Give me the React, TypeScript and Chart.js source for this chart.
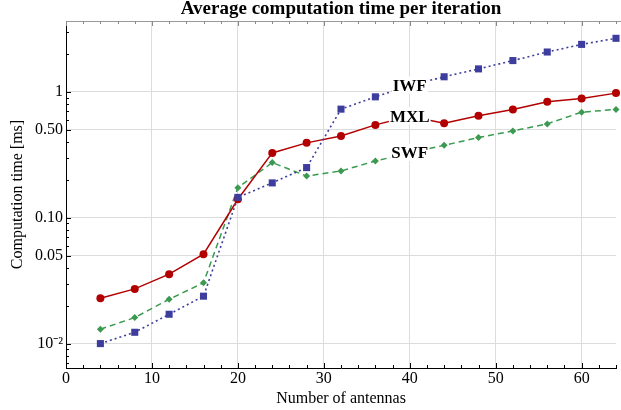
import React, { useEffect, useRef } from 'react';
import { Chart, registerables } from 'chart.js';

Chart.register(...registerables);

// ---- data ----
const antennas = [4, 8, 12, 16, 20, 24, 28, 32, 36, 40, 44, 48, 52, 56, 60, 64];
const iwf = [0.0100, 0.0123, 0.0171, 0.0238, 0.145, 0.189, 0.250, 0.728, 0.912, 1.12, 1.316, 1.52, 1.77, 2.07, 2.38, 2.66];
const mxl = [0.0229, 0.0272, 0.0356, 0.0513, 0.140, 0.327, 0.393, 0.446, 0.546, 0.64, 0.563, 0.644, 0.724, 0.832, 0.885, 0.976];
const swf = [0.0130, 0.0161, 0.0225, 0.0304, 0.173, 0.274, 0.214, 0.235, 0.282, 0.327, 0.376, 0.433, 0.489, 0.556, 0.689, 0.724];
const seriesNames = ['IWF', 'MXL', 'SWF'];
const labelAtAntennas = 40;

const xTickValues = [0, 10, 20, 30, 40, 50, 60];
const yTickValues = [0.01, 0.05, 0.1, 0.5, 1];
const yTickLabels = ['10\u207B\u00B2', '0.05', '0.10', '0.50', '1'];

const title = 'Average computation time per iteration';
const xTitle = 'Number of antennas';
const yTitle = 'Computation time [ms]';

const SERIF = "'Liberation Serif', 'Times New Roman', serif";

const decorPlugin = {
  id: 'decor',
  afterDatasetsDraw(chart: any) {
    const { ctx, chartArea: a, scales } = chart;
    const x = scales.x;
    const y = scales.y;
    ctx.save();

    // series labels with white boxes, centred on the point at labelAtAntennas
    const idx = antennas.indexOf(labelAtAntennas);
    ctx.font = `bold 17px ${SERIF}`;
    ctx.textAlign = 'center';
    ctx.textBaseline = 'middle';
    chart.data.datasets.forEach((ds: any, i: number) => {
      const v = ds.data[idx].y;
      const px = x.getPixelForValue(labelAtAntennas);
      const py = y.getPixelForValue(v);
      const w = ctx.measureText(seriesNames[i]).width + 2;
      ctx.fillStyle = '#fff';
      ctx.fillRect(px - w / 2, py - 9, w, 17);
      ctx.fillStyle = '#000';
      ctx.fillText(seriesNames[i], px, py + 1);
    });

    // top frame line
    ctx.strokeStyle = '#999';
    ctx.lineWidth = 1;
    ctx.beginPath();
    ctx.moveTo(a.left, Math.round(a.top) + 0.5);
    ctx.lineTo(chart.width, Math.round(a.top) + 0.5);
    ctx.stroke();

    // x ticks (bottom inside, top inside)
    for (let v = 0; v <= 64; v += 2) {
      const px = Math.round(x.getPixelForValue(v)) + 0.5;
      const len = v % 10 === 0 ? 5 : 3;
      ctx.strokeStyle = '#000';
      ctx.beginPath();
      ctx.moveTo(px, a.bottom);
      ctx.lineTo(px, a.bottom - len);
      ctx.stroke();
      ctx.strokeStyle = '#888';
      ctx.beginPath();
      ctx.moveTo(px, a.top);
      ctx.lineTo(px, a.top + len);
      ctx.stroke();
    }

    // y ticks (left, inside)
    ctx.strokeStyle = '#000';
    for (let e = -3; e <= 0; e++) {
      for (let m = 1; m <= 9; m++) {
        const v = m * Math.pow(10, e);
        if (v < y.min || v > y.max) continue;
        const py = Math.round(y.getPixelForValue(v)) + 0.5;
        const major = m === 1 || m === 5;
        ctx.beginPath();
        ctx.moveTo(a.left, py);
        ctx.lineTo(a.left + (major ? 5 : 3), py);
        ctx.stroke();
      }
    }
    ctx.restore();
  },
};

export default function App() {
  const ref = useRef<HTMLCanvasElement>(null);

  useEffect(() => {
    const canvas = ref.current;
    if (!canvas) return;
    const mk = (vals: number[]) => antennas.map((a, i) => ({ x: a, y: vals[i] }));
    const chart = new Chart(canvas, {
      type: 'line',
      data: {
        datasets: [
          {
            label: seriesNames[0],
            data: mk(iwf),
            borderColor: '#3d3d9e',
            backgroundColor: '#3d3d9e',
            borderWidth: 1.6,
            borderDash: [2, 3],
            pointStyle: 'rect',
            pointRadius: 5,
            pointBorderWidth: 0,
            clip: false,
          },
          {
            label: seriesNames[1],
            data: mk(mxl),
            borderColor: '#b20000',
            backgroundColor: '#b20000',
            borderWidth: 1.5,
            pointStyle: 'circle',
            pointRadius: 4,
            pointBorderWidth: 0,
            clip: false,
          },
          {
            label: seriesNames[2],
            data: mk(swf),
            borderColor: '#3b9a50',
            backgroundColor: '#3b9a50',
            borderWidth: 1.5,
            borderDash: [6, 4],
            pointStyle: 'rectRot',
            pointRadius: 3.5,
            pointBorderWidth: 0,
            clip: false,
          },
        ] as any,
      },
      options: {
        responsive: false,
        animation: false,
        devicePixelRatio: 1,
        layout: { padding: { top: 0, right: 2, left: 0, bottom: 0 } },
        plugins: {
          legend: { display: false },
          tooltip: { enabled: false },
          title: {
            display: true,
            text: title,
            color: '#000',
            fullSize: false,
            font: { family: SERIF, size: 19, weight: 'bold', lineHeight: 1 },
            padding: { top: 0, bottom: 2 },
          },
        },
        scales: {
          x: {
            type: 'linear',
            min: 0,
            max: 64,
            bounds: 'data',
            afterBuildTicks: (s: any) => {
              s.ticks = xTickValues.map((v) => ({ value: v }));
            },
            afterFit: (s: any) => {
              s.height = 42;
            },
            ticks: {
              color: '#000',
              font: { family: SERIF, size: 16 },
              padding: 1,
              maxRotation: 0,
              autoSkip: false,
            },
            grid: {
              color: (c: any) => (c.tick && c.tick.value === 0 ? 'rgba(0,0,0,0)' : '#dcdcdc'),
              lineWidth: 1,
              drawTicks: false,
            },
            border: { color: '#000', width: 1 },
            title: {
              display: true,
              text: xTitle,
              color: '#000',
              font: { family: SERIF, size: 16 },
              padding: { top: 0, bottom: 2 },
            },
          },
          y: {
            type: 'logarithmic',
            min: 0.0064,
            max: 3.65,
            bounds: 'data',
            afterBuildTicks: (s: any) => {
              s.ticks = yTickValues.map((v) => ({ value: v }));
            },
            afterFit: (s: any) => {
              s.width = 66;
            },
            ticks: {
              color: '#000',
              font: { family: SERIF, size: 16 },
              padding: 3,
              autoSkip: false,
              callback: (v: any) => {
                const i = yTickValues.indexOf(Number(v));
                return i >= 0 ? yTickLabels[i] : '';
              },
            },
            grid: { color: '#dcdcdc', lineWidth: 1, drawTicks: false },
            border: { color: '#000', width: 1 },
            title: {
              display: true,
              text: yTitle,
              color: '#000',
              font: { family: SERIF, size: 16 },
              padding: { top: 8.4, bottom: 0 },
            },
          },
        },
      } as any,
      plugins: [decorPlugin],
    });
    return () => chart.destroy();
  }, []);

  return (
    <div style={{ position: 'absolute', left: 0, top: 0, width: 621, height: 410, background: '#fff' }}>
      <canvas ref={ref} width={621} height={410} style={{ width: 621, height: 410 }} />
    </div>
  );
}
